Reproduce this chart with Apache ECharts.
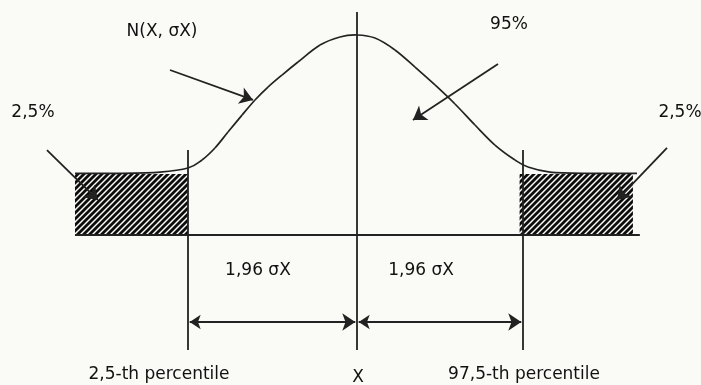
<!DOCTYPE html>
<html><head><meta charset="utf-8">
<script src="https://cdn.jsdelivr.net/npm/echarts@6/dist/echarts.min.js"></script>
<style>html,body{margin:0;padding:0;background:#fafaf6}#c{width:701px;height:385px}</style>
</head><body><div id="c"></div>
<script>
// Normal density curve N(X, σX), x in σ units, y relative density
const curveX = [-3.26,-2.74,-2.277,-1.954,-1.792,-1.642,-1.491,-1.329,-1.179,-1.029,-0.867,-0.682,-0.428,-0.197,0,0.208,0.439,0.671,0.902,1.133,1.364,1.595,1.827,1.977,2.231,2.694,3.237];
const curveY = [0.005,0.005,0.014,0.043,0.100,0.186,0.300,0.421,0.529,0.621,0.707,0.800,0.921,0.979,0.993,0.971,0.886,0.764,0.636,0.500,0.350,0.207,0.100,0.050,0.014,0.005,0.005];
// Percentile bounds (σ units)
const lowerPct = -1.954, upperPct = 1.919, meanX = 0;
// Tail regions [x0, x1, yBottom, yTop]
const tails = [[-3.26,-1.954,-0.436,0.0],[1.88,3.19,-0.436,0.0]];
const labelTexts = ['N(X, σX)','95%','2,5%','2,5%','1,96 σX','1,96 σX','2,5-th percentile','X','97,5-th percentile'];
const labelPos = [[-2.254,1.014],[1.757,1.071],[-3.746,0.436],[3.734,0.436],[-1.145,-0.693],[0.740,-0.693],[-2.289,-1.436],[0.012,-1.457],[1.931,-1.436]];

const ink = '#222';
const pc = document.createElement('canvas');
pc.width = 6; pc.height = 6;
const g = pc.getContext('2d');
g.fillStyle = '#fafaf6'; g.fillRect(0,0,6,6);
g.strokeStyle = '#0d0d0d'; g.lineWidth = 2.8;
g.beginPath();
g.moveTo(-1,7); g.lineTo(7,-1);
g.moveTo(-4,4); g.lineTo(4,-4);
g.moveTo(2,10); g.lineTo(10,2);
g.stroke();

const plainLines = [
  [[-3.26,-0.436],[3.27,-0.436]],
  [[meanX,1.157],[meanX,-1.257]],
  [[lowerPct,0.171],[lowerPct,-1.257]],
  [[upperPct,0.171],[upperPct,-1.257]]
];
const pointerArrows = [
  [[-2.162,0.743],[-1.202,0.529]],
  [[1.630,0.786],[0.647,0.386]],
  [[-3.584,0.171],[-2.994,-0.186]],
  [[3.584,0.186],[3.006,-0.186]]
];
const dimArrows = [
  [[lowerPct+0.02,-1.057],[meanX-0.02,-1.057]],
  [[meanX+0.02,-1.057],[upperPct-0.02,-1.057]]
];

const chart = echarts.init(document.getElementById('c'));
chart.setOption({
  backgroundColor: '#fafaf6',
  animation: false,
  grid: {left:0,right:0,top:0,bottom:0},
  xAxis: {type:'value', min:-4.127, max:3.977, show:false},
  yAxis: {type:'value', min:-1.507, max:1.243, show:false},
  series: [
    {type:'custom', renderItem: function(params, api){
        const p0 = api.coord([api.value(0), api.value(3)]);
        const p1 = api.coord([api.value(1), api.value(2)]);
        return {type:'rect', shape:{x:p0[0], y:p0[1], width:p1[0]-p0[0], height:p1[1]-p0[1]},
          style:{fill:{image:pc, repeat:'repeat'}, stroke:null}};
      }, data: tails, z:1},
    {type:'custom', z:3, data:[0], renderItem: function(params, api){
        const P = curveX.map((x,i)=>api.coord([x, curveY[i]]));
        const n = P.length, children = [];
        for (let i = 0; i < n-1; i++) {
          const a = P[Math.max(i-1,0)], b = P[i], c = P[i+1], d = P[Math.min(i+2,n-1)];
          children.push({type:'bezierCurve', shape:{
            x1:b[0], y1:b[1], x2:c[0], y2:c[1],
            cpx1:b[0]+(c[0]-a[0])/6, cpy1:b[1]+(c[1]-a[1])/6,
            cpx2:c[0]-(d[0]-b[0])/6, cpy2:c[1]-(d[1]-b[1])/6},
            style:{stroke:ink, lineWidth:1.7, fill:null}});
        }
        return {type:'group', children};
      }},
    {type:'lines', coordinateSystem:'cartesian2d', polyline:false, symbol:['none','none'],
      lineStyle:{color:ink, width:1.8, opacity:1}, data: plainLines.map(c=>({coords:c})), z:4},
    {type:'lines', coordinateSystem:'cartesian2d', symbol:['none','arrow'], symbolSize:[11,13],
      lineStyle:{color:ink, width:1.8, opacity:1}, data: pointerArrows.map(c=>({coords:c})), z:5},
    {type:'lines', coordinateSystem:'cartesian2d', symbol:['arrow','arrow'], symbolSize:[11,13],
      lineStyle:{color:ink, width:1.8, opacity:1}, data: dimArrows.map(c=>({coords:c})), z:5},
    {type:'scatter', symbolSize:0, z:6,
      data: labelPos.map((p,i)=>[p[0],p[1],labelTexts[i]]),
      label:{show:true, position:'inside', formatter: p=>p.value[2], color:'#111', opacity:1,
        fontSize:17, fontFamily:'DejaVu Sans'}}
  ]
});
</script></body></html>
